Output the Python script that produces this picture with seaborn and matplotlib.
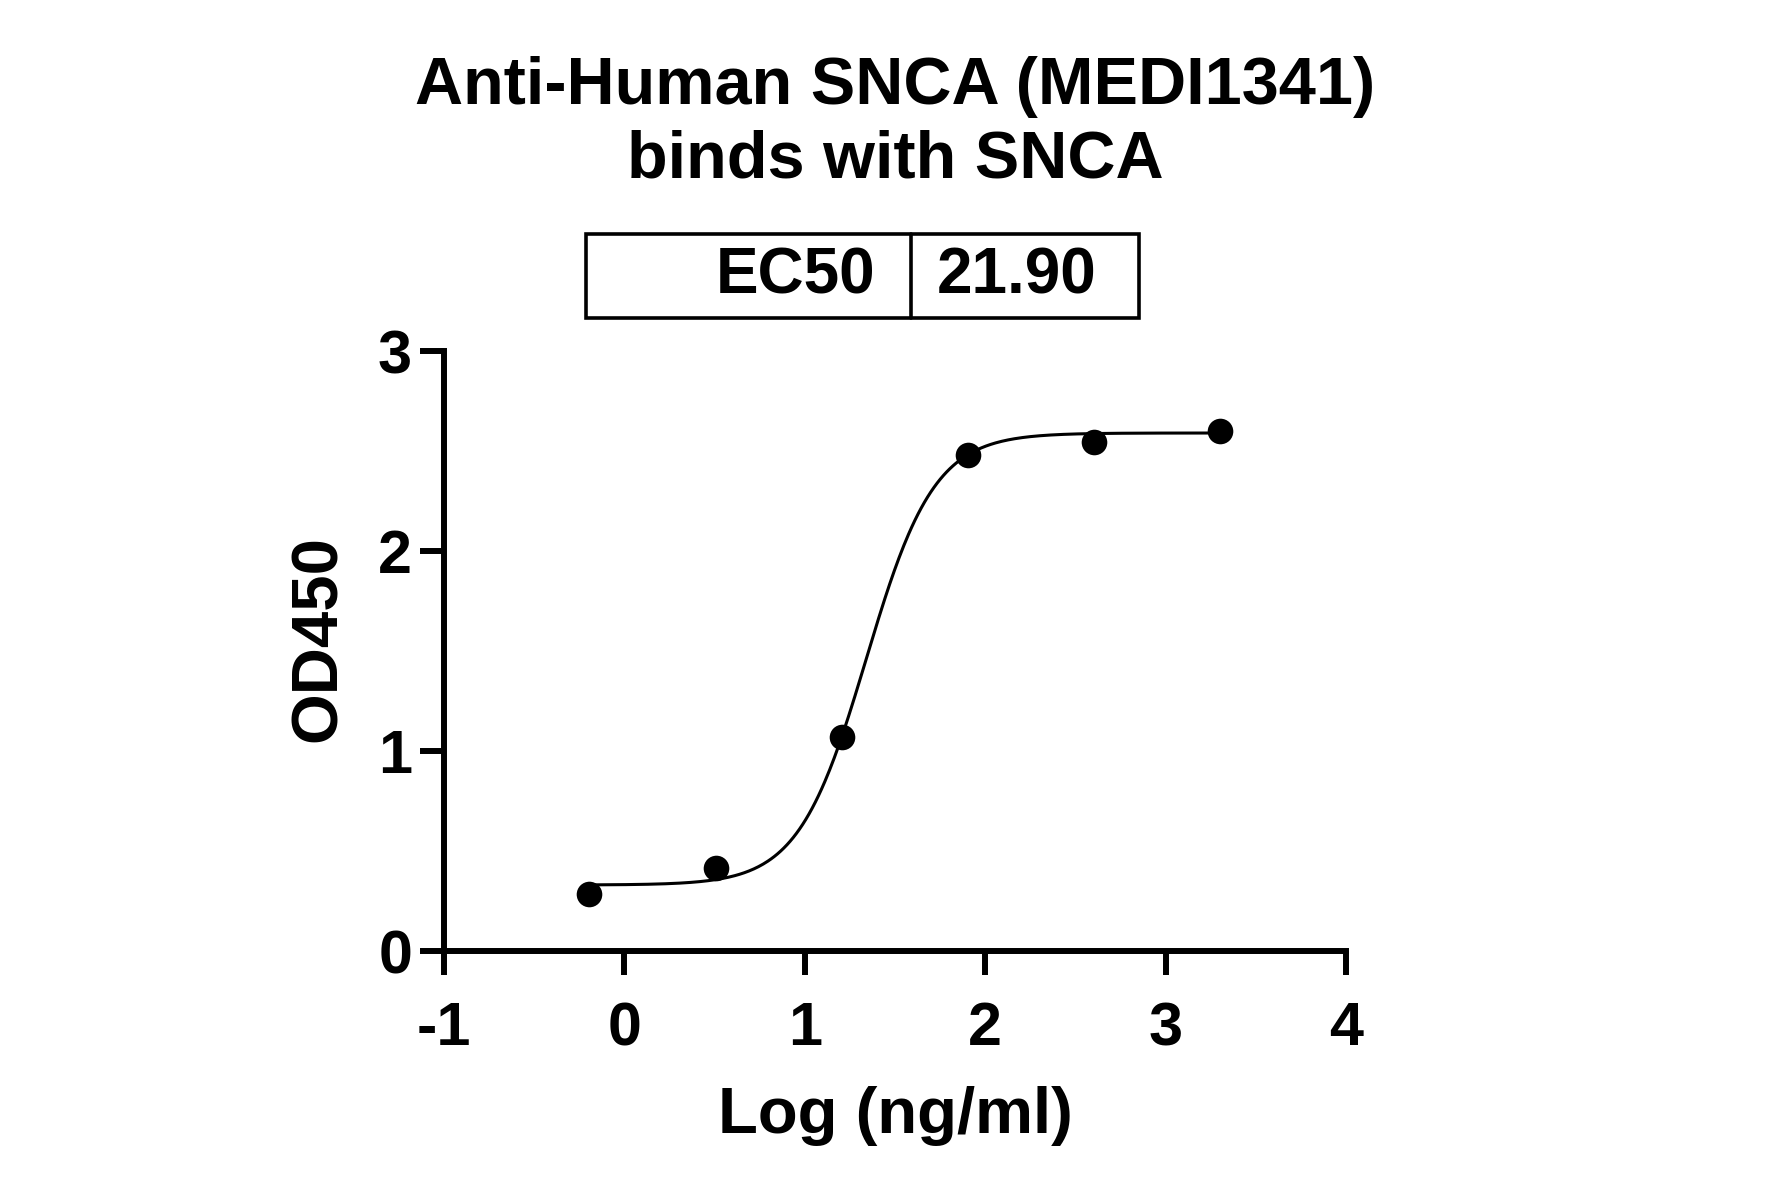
import numpy as np
import pandas as pd
import matplotlib
matplotlib.use("Agg")
import matplotlib.pyplot as plt
from matplotlib.patches import Rectangle
import seaborn as sns

# ---- data ----
log_conc = [-0.194, 0.505, 1.204, 1.903, 2.602, 3.301]
od450 = [0.285, 0.415, 1.07, 2.48, 2.545, 2.60]
# 4-parameter logistic fit parameters
fit_bottom = 0.33
fit_top = 2.59
ec50 = 21.90
fit_hill = 2.3
x_ticks = [-1, 0, 1, 2, 3, 4]
y_ticks = [0, 1, 2, 3]
title_lines = ["Anti-Human SNCA (MEDI1341)", "binds with SNCA"]
x_label = "Log (ng/ml)"
y_label = "OD450"

sns.set_theme(style="white")
plt.rcParams['font.family'] = ['Liberation Sans', 'DejaVu Sans']
plt.rcParams['font.weight'] = 'bold'

fig = plt.figure(figsize=(17.81, 11.97), dpi=100)
ax = fig.add_axes([444/1781, 246/1197, 902/1781, 600/1197])

df = pd.DataFrame({"x": log_conc, "y": od450})
xs = np.linspace(min(log_conc), max(log_conc), 400)
ys = fit_bottom + (fit_top - fit_bottom) / (1 + 10 ** ((np.log10(ec50) - xs) * fit_hill))
curve = pd.DataFrame({"x": xs, "y": ys})

sns.lineplot(data=curve, x="x", y="y", ax=ax, color="black", linewidth=2.2)
sns.scatterplot(data=df, x="x", y="y", ax=ax, color="black", s=340,
                edgecolor="black", linewidth=0, zorder=5, clip_on=False)

ax.set_xlim(-1, 4)
ax.set_ylim(0, 3)
ax.set_xticks(x_ticks)
ax.set_yticks(y_ticks)
ax.set_xticklabels([str(t) for t in x_ticks])
ax.set_yticklabels([str(t) for t in y_ticks])
for s in ["top", "right"]:
    ax.spines[s].set_visible(False)
for s in ["left", "bottom"]:
    ax.spines[s].set_linewidth(4.3)
    ax.spines[s].set_color("black")
ax.tick_params(axis="both", which="major", direction="out", length=17, width=4.3,
               color="black", labelsize=44, labelcolor="black",
               bottom=True, left=True, top=False, right=False)
ax.tick_params(axis="x", pad=19)
ax.tick_params(axis="y", pad=6)
for lab in ax.get_xticklabels() + ax.get_yticklabels():
    lab.set_fontweight("bold")

ax.set_xlabel(x_label, fontsize=47, fontweight="bold", color="black")
ax.set_ylabel(y_label, fontsize=47, fontweight="bold", color="black")
ax.xaxis.set_label_coords(0.5, -0.225)
ax.xaxis.label.set_va("top")
ax.yaxis.set_label_coords(-0.139, 0.52)
ax.yaxis.label.set_va("center")
ax.grid(False)

# title
fig.text(895/1781, 1 - 104/1197, title_lines[0], ha="center", va="baseline",
         fontsize=48, fontweight="bold", color="black")
fig.text(895/1781, 1 - 178/1197, title_lines[1], ha="center", va="baseline",
         fontsize=48, fontweight="bold", color="black")

# EC50 box
bx0, bx1, by0, by1, bdiv = 586, 1139, 234, 318, 911
fig.patches.append(Rectangle((bx0/1781, 1 - by1/1197), (bx1-bx0)/1781, (by1-by0)/1197,
                             transform=fig.transFigure, fill=False, edgecolor="black",
                             linewidth=2.6))
fig.lines.append(plt.Line2D([bdiv/1781, bdiv/1781], [1 - by1/1197, 1 - by0/1197],
                            transform=fig.transFigure, color="black", linewidth=2.6))
fig.text(875/1781, 1 - 276/1197, "EC50", ha="right", va="center",
         fontsize=46, fontweight="bold", color="black")
fig.text(937/1781, 1 - 276/1197, f"{ec50:.2f}", ha="left", va="center",
         fontsize=46, fontweight="bold", color="black")

fig.savefig("out.png", dpi=100)
